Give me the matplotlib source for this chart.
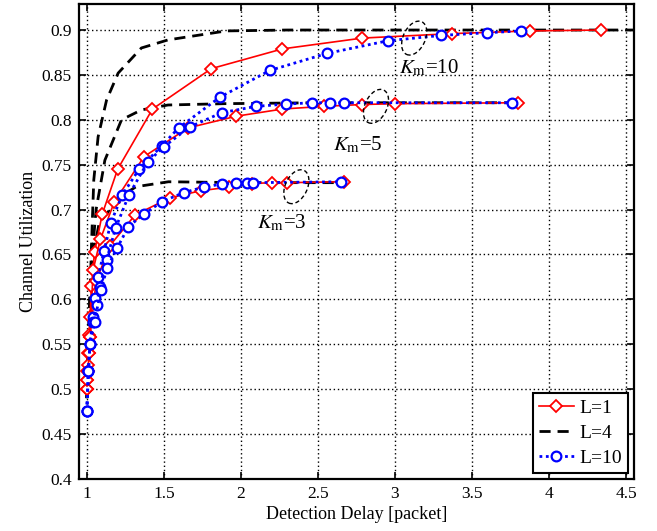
import matplotlib
matplotlib.use("Agg")
import matplotlib.pyplot as plt
from matplotlib.patches import Ellipse
from matplotlib.transforms import ScaledTranslation

plt.rcParams['font.family'] = ['Liberation Serif', 'DejaVu Serif']
plt.rcParams['mathtext.fontset'] = 'stix'

# ---- data: (Km, L) curves ----
x_k10_l1 = [1.0, 1.004, 1.008, 1.013, 1.02, 1.03, 1.05, 1.10, 1.20, 1.426, 1.808, 2.27, 2.787, 3.37, 3.875, 4.34]
y_k10_l1 = [0.50, 0.52, 0.54, 0.56, 0.58, 0.615, 0.653, 0.695, 0.745, 0.812, 0.857, 0.879, 0.891, 0.896, 0.899, 0.900]
x_k5_l1 = [1.0, 1.004, 1.008, 1.013, 1.02, 1.041, 1.088, 1.177, 1.371, 1.657, 1.97, 2.27, 2.54, 2.784, 3.0, 3.80]
y_k5_l1 = [0.50, 0.51, 0.527, 0.54, 0.558, 0.633, 0.667, 0.708, 0.759, 0.791, 0.804, 0.812, 0.815, 0.817, 0.818, 0.819]
x_k3_l1 = [1.0, 1.004, 1.008, 1.013, 1.02, 1.06, 1.15, 1.313, 1.538, 1.739, 1.92, 2.07, 2.20, 2.30, 2.67]
y_k3_l1 = [0.50, 0.51, 0.52, 0.54, 0.558, 0.62, 0.66, 0.694, 0.713, 0.721, 0.725, 0.729, 0.730, 0.730, 0.731]

x_k10_l4 = [1.0, 1.01, 1.02, 1.03, 1.045, 1.073, 1.128, 1.203, 1.354, 1.527, 1.905, 2.3, 3.0, 4.55]
y_k10_l4 = [0.49, 0.55, 0.60, 0.66, 0.733, 0.781, 0.822, 0.852, 0.880, 0.889, 0.899, 0.900, 0.900, 0.900]
x_k5_l4 = [1.0, 1.01, 1.02, 1.035, 1.06, 1.117, 1.225, 1.354, 1.527, 1.9, 2.5, 3.8]
y_k5_l4 = [0.49, 0.55, 0.60, 0.65, 0.70, 0.755, 0.800, 0.811, 0.8165, 0.818, 0.819, 0.819]
x_k3_l4 = [1.0, 1.01, 1.02, 1.04, 1.08, 1.15, 1.214, 1.32, 1.53, 2.0, 2.65]
y_k3_l4 = [0.49, 0.55, 0.60, 0.65, 0.685, 0.700, 0.714, 0.7255, 0.731, 0.730, 0.730]

x_k10_l10 = [1.0, 1.01, 1.02, 1.04, 1.056, 1.073, 1.112, 1.155, 1.229, 1.339, 1.486, 1.596, 1.862, 2.188, 2.56, 2.953, 3.30, 3.60, 3.82]
y_k10_l10 = [0.476, 0.52, 0.55, 0.58, 0.601, 0.625, 0.654, 0.685, 0.716, 0.745, 0.771, 0.791, 0.825, 0.855, 0.874, 0.888, 0.894, 0.897, 0.899]
x_k5_l10 = [1.0, 1.01, 1.02, 1.04, 1.063, 1.084, 1.128, 1.186, 1.272, 1.395, 1.50, 1.667, 1.877, 2.10, 2.294, 2.46, 2.58, 2.67, 3.76]
y_k5_l10 = [0.476, 0.52, 0.55, 0.575, 0.594, 0.614, 0.644, 0.679, 0.716, 0.753, 0.770, 0.792, 0.808, 0.815, 0.8175, 0.819, 0.819, 0.819, 0.819]
x_k3_l10 = [1.0, 1.01, 1.02, 1.05, 1.09, 1.132, 1.196, 1.27, 1.37, 1.49, 1.63, 1.758, 1.877, 1.97, 2.04, 2.08, 2.65]
y_k3_l10 = [0.476, 0.52, 0.55, 0.575, 0.61, 0.635, 0.657, 0.681, 0.695, 0.709, 0.719, 0.725, 0.7285, 0.730, 0.730, 0.730, 0.731]

xticks = [1, 1.5, 2, 2.5, 3, 3.5, 4, 4.5]
xtick_labels = ['1', '1.5', '2', '2.5', '3', '3.5', '4', '4.5']
yticks = [0.4, 0.45, 0.5, 0.55, 0.6, 0.65, 0.7, 0.75, 0.8, 0.85, 0.9]
ytick_labels = ['0.4', '0.45', '0.5', '0.55', '0.6', '0.65', '0.7', '0.75', '0.8', '0.85', '0.9']

fig = plt.figure(figsize=(6.57, 5.31), dpi=100)
ax = fig.add_axes([0.120, 0.098, 0.845, 0.8945])

red_kw = dict(color='red', lw=1.2, marker='D', markersize=6.5, markerfacecolor='white',
              markeredgecolor='red', markeredgewidth=1.3)
blk_kw = dict(color='black', lw=2.0, linestyle=(0, (4, 2.5)))
blu_kw = dict(color='blue', lw=2.0, linestyle=(0, (1, 1.3)), marker='o', markersize=7,
              markerfacecolor='white', markeredgecolor='blue', markeredgewidth=1.6)

for xs, ys in [(x_k10_l4, y_k10_l4), (x_k5_l4, y_k5_l4), (x_k3_l4, y_k3_l4)]:
    ax.plot(xs, ys, zorder=3, **blk_kw)
for xs, ys in [(x_k10_l1, y_k10_l1), (x_k5_l1, y_k5_l1), (x_k3_l1, y_k3_l1)]:
    ax.plot(xs, ys, zorder=4, **red_kw)
for xs, ys in [(x_k10_l10, y_k10_l10), (x_k5_l10, y_k5_l10), (x_k3_l10, y_k3_l10)]:
    ax.plot(xs, ys, zorder=5, **blu_kw)

h1, = ax.plot([], [], **red_kw)
h2, = ax.plot([], [], **blk_kw)
h3, = ax.plot([], [], **blu_kw)

ax.set_xlim(0.948, 4.552)
ax.set_ylim(0.4, 0.929)
ax.set_xticks(xticks)
ax.set_xticklabels(xtick_labels)
ax.set_yticks(yticks)
ax.set_yticklabels(ytick_labels)
ax.tick_params(direction='in', top=True, right=True, length=5, width=1.2, labelsize=12.5, pad=5)
ax.grid(True, color='black', linestyle=(0, (1, 2)), linewidth=1.0)
for s in ax.spines.values():
    s.set_linewidth(1.6)

ax.set_xlabel('Detection Delay [packet]', fontsize=13, labelpad=3)
ax.set_ylabel('Channel Utilization', fontsize=13, labelpad=3)

# ellipses & labels
for (ex, ey, ang) in [(3.125, 0.891, -25), (2.877, 0.815, -25), (2.36, 0.7255, -25)]:
    tr = fig.dpi_scale_trans + ScaledTranslation(ex, ey, ax.transData)
    e = Ellipse((0, 0), width=0.22, height=0.36, angle=ang, transform=tr, fill=False,
                edgecolor='black', linestyle=(0, (3, 2)), linewidth=1.0, zorder=6)
    ax.add_patch(e)

ax.text(3.22, 0.858, r'$K_{\rm m}$=10', fontsize=15, ha='center', va='center', zorder=7)
ax.text(2.76, 0.772, r'$K_{\rm m}$=5', fontsize=15, ha='center', va='center', zorder=7)
ax.text(2.265, 0.685, r'$K_{\rm m}$=3', fontsize=15, ha='center', va='center', zorder=7)

leg = ax.legend([h1, h2, h3], ['L=1', 'L=4', 'L=10'], loc='lower right', fontsize=14,
                fancybox=False, framealpha=1, edgecolor='black', borderaxespad=0.3,
                handlelength=1.8, handletextpad=0.3, labelspacing=0.4, borderpad=0.3)
leg.get_frame().set_linewidth(1.5)
leg.set_zorder(10)

fig.savefig('out.png', dpi=100)
